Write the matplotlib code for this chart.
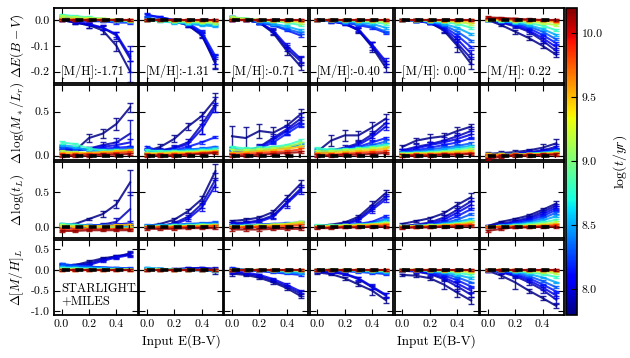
import numpy as np
import matplotlib
matplotlib.use("Agg")
import matplotlib.pyplot as plt
from matplotlib.ticker import FormatStrFormatter, FixedLocator

plt.rcParams['font.family'] = 'cmr10'
plt.rcParams['mathtext.fontset'] = 'cm'
plt.rcParams['axes.unicode_minus'] = False
plt.rcParams['axes.formatter.use_mathtext'] = True

#### data ####
ebv_in = [0.0, 0.1, 0.2, 0.3, 0.4, 0.5]
metallicity = ['-1.71', '-1.31', '-0.71', '-0.40', ' 0.00', ' 0.22']
ages = [7.82, 7.92, 8.02, 8.15, 8.3, 8.5, 8.8, 9.15, 9.5, 9.85, 10.15]

# Delta E(B-V), one line per age (young -> old)
ebv_m171 = [[0.0, -0.01, -0.02, -0.04, -0.10, -0.20],
            [0.0, -0.01, -0.02, -0.03, -0.06, -0.15],
            [0.0, -0.005, -0.015, -0.03, -0.055, -0.14],
            [0.005, 0.0, -0.005, -0.005, -0.01, -0.01],
            [0.01, 0.005, 0.0, -0.005, -0.005, -0.008],
            [0.015, 0.01, 0.005, 0.0, -0.005, -0.005],
            [0.02, 0.015, 0.01, 0.005, 0.0, -0.005],
            [0.015, 0.01, 0.008, 0.005, 0.0, -0.003],
            [0.005, 0.004, 0.003, 0.002, 0.0, 0.0],
            [0.0, 0.0, 0.0, 0.0, 0.0, 0.0],
            [0.0, 0.0, 0.0, 0.0, 0.0, 0.0]]
ebv_m131 = [[0.0, 0.0, -0.005, -0.02, -0.055, -0.17],
            [0.0, 0.0, -0.005, -0.02, -0.06, -0.16],
            [0.02, 0.01, 0.0, -0.015, -0.05, -0.15],
            [0.02, 0.01, 0.0, -0.012, -0.045, -0.14],
            [0.01, 0.0, -0.005, -0.01, -0.015, -0.02],
            [0.0, -0.005, -0.01, -0.015, -0.02, -0.025],
            [0.0, -0.005, -0.008, -0.01, -0.012, -0.015],
            [0.0, 0.0, -0.005, -0.005, -0.008, -0.01],
            [0.0, 0.0, 0.0, -0.002, -0.003, -0.004],
            [0.0, 0.0, 0.0, 0.0, 0.0, 0.0],
            [0.0, 0.0, 0.0, 0.0, 0.0, 0.0]]
ebv_m071 = [[0.0, 0.0, -0.01, -0.05, -0.12, -0.18],
            [0.0, 0.0, -0.01, -0.045, -0.11, -0.16],
            [0.0, 0.0, -0.01, -0.04, -0.10, -0.15],
            [0.01, 0.0, -0.01, -0.02, -0.04, -0.06],
            [0.01, 0.0, -0.01, -0.02, -0.035, -0.05],
            [0.01, 0.005, -0.005, -0.015, -0.025, -0.04],
            [0.01, 0.005, 0.0, -0.005, -0.01, -0.02],
            [0.01, 0.005, 0.0, -0.005, -0.005, -0.01],
            [0.005, 0.0, 0.0, 0.0, -0.002, -0.004],
            [0.0, 0.0, 0.0, 0.0, 0.0, 0.0],
            [0.0, 0.0, 0.0, 0.0, 0.0, 0.0]]
ebv_m040 = [[0.0, 0.0, -0.01, -0.04, -0.105, -0.185],
            [0.0, -0.005, -0.015, -0.04, -0.10, -0.17],
            [0.0, -0.005, -0.015, -0.035, -0.095, -0.16],
            [0.0, -0.005, -0.01, -0.02, -0.03, -0.05],
            [0.0, -0.005, -0.01, -0.015, -0.025, -0.045],
            [0.0, -0.003, -0.006, -0.01, -0.015, -0.03],
            [0.0, 0.0, -0.003, -0.005, -0.008, -0.015],
            [0.0, 0.0, 0.0, -0.002, -0.004, -0.008],
            [0.0, 0.0, 0.0, 0.0, 0.0, 0.0],
            [0.0, 0.0, 0.0, 0.0, 0.0, 0.0],
            [0.0, 0.0, 0.0, 0.0, 0.0, 0.0]]
ebv_p000 = [[0.0, -0.002, -0.01, -0.04, -0.10, -0.17],
            [0.0, -0.003, -0.012, -0.035, -0.09, -0.15],
            [0.0, -0.003, -0.01, -0.03, -0.075, -0.13],
            [0.0, -0.003, -0.01, -0.025, -0.06, -0.105],
            [0.0, -0.002, -0.008, -0.02, -0.045, -0.08],
            [0.0, -0.002, -0.006, -0.015, -0.03, -0.055],
            [0.0, -0.001, -0.004, -0.008, -0.015, -0.03],
            [0.0, 0.0, -0.002, -0.004, -0.008, -0.015],
            [0.0, 0.0, 0.0, -0.002, -0.004, -0.006],
            [0.0, 0.0, 0.0, 0.0, 0.0, 0.0],
            [0.0, 0.0, 0.0, 0.0, 0.0, 0.0]]
ebv_p022 = [[0.0, -0.02, -0.045, -0.07, -0.10, -0.135],
            [0.0, -0.01, -0.025, -0.045, -0.08, -0.12],
            [0.0, -0.008, -0.02, -0.04, -0.07, -0.105],
            [0.0, -0.006, -0.016, -0.032, -0.058, -0.09],
            [0.0, -0.005, -0.013, -0.025, -0.045, -0.075],
            [0.0, -0.004, -0.01, -0.02, -0.035, -0.058],
            [0.0, -0.002, -0.006, -0.012, -0.022, -0.04],
            [0.0, -0.001, -0.003, -0.006, -0.012, -0.02],
            [0.005, 0.003, 0.0, -0.002, -0.004, -0.008],
            [0.008, 0.005, 0.002, 0.0, 0.0, -0.002],
            [0.01, 0.008, 0.005, 0.002, 0.0, 0.0]]

# Delta log(M*/Lr)
ml_m171 = [[0.08, 0.06, 0.2, 0.25, 0.36, 0.55],
           [0.1, 0.06, 0.08, 0.12, 0.15, 0.25],
           [0.06, 0.06, 0.08, 0.1, 0.12, 0.15],
           [0.08, 0.07, 0.07, 0.08, 0.09, 0.1],
           [0.1, 0.08, 0.06, 0.06, 0.07, 0.08],
           [0.12, 0.1, 0.06, 0.05, 0.05, 0.06],
           [0.15, 0.13, 0.08, 0.06, 0.06, 0.06],
           [0.05, 0.04, 0.03, 0.03, 0.04, 0.05],
           [0.03, 0.03, 0.03, 0.04, 0.05, 0.06],
           [0.01, 0.01, 0.02, 0.02, 0.03, 0.04],
           [0.0, 0.0, 0.0, 0.01, 0.01, 0.02]]
ml_m131 = [[0.05, 0.1, 0.19, 0.33, 0.45, 0.64],
           [0.05, 0.06, 0.09, 0.15, 0.35, 0.58],
           [0.05, 0.05, 0.08, 0.13, 0.3, 0.55],
           [0.1, 0.05, 0.06, 0.1, 0.15, 0.21],
           [0.05, 0.05, 0.06, 0.07, 0.08, 0.1],
           [0.05, 0.05, 0.05, 0.06, 0.07, 0.08],
           [0.06, 0.05, 0.05, 0.05, 0.06, 0.07],
           [0.03, 0.03, 0.04, 0.04, 0.05, 0.05],
           [0.02, 0.02, 0.03, 0.03, 0.04, 0.05],
           [0.01, 0.01, 0.01, 0.02, 0.03, 0.04],
           [0.0, 0.0, 0.0, 0.01, 0.02, 0.03]]
ml_m071 = [[0.22, 0.2, 0.28, 0.26, 0.34, 0.47],
           [0.05, 0.05, 0.1, 0.2, 0.3, 0.42],
           [0.04, 0.05, 0.09, 0.18, 0.28, 0.38],
           [0.04, 0.05, 0.08, 0.15, 0.25, 0.35],
           [0.05, 0.05, 0.06, 0.08, 0.1, 0.12],
           [0.08, 0.06, 0.07, 0.08, 0.1, 0.13],
           [0.1, 0.08, 0.09, 0.1, 0.12, 0.17],
           [0.06, 0.06, 0.07, 0.08, 0.1, 0.14],
           [0.03, 0.04, 0.05, 0.06, 0.08, 0.1],
           [0.01, 0.02, 0.03, 0.04, 0.05, 0.07],
           [0.0, 0.0, 0.01, 0.02, 0.03, 0.04]]
ml_m040 = [[0.045, 0.17, 0.23, 0.23, 0.32, 0.42],
           [0.02, 0.06, 0.09, 0.14, 0.24, 0.37],
           [0.02, 0.05, 0.08, 0.12, 0.21, 0.33],
           [0.03, 0.05, 0.07, 0.1, 0.15, 0.2],
           [0.06, 0.06, 0.07, 0.09, 0.12, 0.16],
           [0.07, 0.06, 0.07, 0.08, 0.1, 0.13],
           [0.08, 0.07, 0.07, 0.08, 0.1, 0.12],
           [0.05, 0.05, 0.06, 0.07, 0.08, 0.1],
           [0.03, 0.03, 0.04, 0.05, 0.06, 0.08],
           [0.01, 0.01, 0.02, 0.03, 0.04, 0.05],
           [0.0, 0.0, 0.01, 0.01, 0.02, 0.03]]
ml_p000 = [[0.1, 0.17, 0.2, 0.22, 0.28, 0.33],
           [0.06, 0.1, 0.13, 0.17, 0.22, 0.28],
           [0.05, 0.08, 0.12, 0.15, 0.19, 0.24],
           [0.04, 0.06, 0.09, 0.12, 0.15, 0.2],
           [0.04, 0.05, 0.07, 0.09, 0.11, 0.14],
           [0.03, 0.04, 0.05, 0.07, 0.09, 0.11],
           [0.03, 0.03, 0.04, 0.05, 0.07, 0.09],
           [0.02, 0.03, 0.03, 0.04, 0.05, 0.07],
           [0.01, 0.02, 0.02, 0.03, 0.04, 0.05],
           [0.0, 0.01, 0.01, 0.02, 0.02, 0.03],
           [0.0, 0.0, 0.0, 0.01, 0.01, 0.02]]
ml_p022 = [[0.02, 0.03, 0.04, 0.06, 0.09, 0.14],
           [0.0, 0.01, 0.02, 0.04, 0.06, 0.1],
           [0.0, 0.01, 0.02, 0.03, 0.05, 0.08],
           [0.0, 0.01, 0.02, 0.03, 0.04, 0.07],
           [0.0, 0.01, 0.01, 0.02, 0.03, 0.06],
           [0.0, 0.01, 0.01, 0.02, 0.03, 0.05],
           [0.0, 0.0, 0.01, 0.02, 0.03, 0.04],
           [0.01, 0.01, 0.01, 0.02, 0.02, 0.03],
           [0.01, 0.01, 0.01, 0.01, 0.02, 0.03],
           [0.0, 0.0, 0.01, 0.01, 0.01, 0.02],
           [-0.04, -0.01, 0.0, 0.0, 0.01, 0.01]]

# Delta log(t_L)
tl_m171 = [[0.02, 0.05, 0.12, 0.19, 0.33, 0.64],
           [0.0, 0.0, 0.02, 0.04, 0.08, 0.26],
           [0.0, 0.0, 0.01, 0.02, 0.04, 0.06],
           [0.04, 0.03, 0.03, 0.03, 0.04, 0.05],
           [0.05, 0.04, 0.03, 0.03, 0.03, 0.03],
           [0.03, 0.02, 0.02, 0.01, 0.01, 0.01],
           [0.05, 0.04, 0.02, 0.01, 0.0, -0.01],
           [0.03, 0.02, 0.01, 0.0, -0.01, -0.02],
           [0.01, 0.01, 0.02, 0.02, 0.03, 0.04],
           [-0.03, -0.03, -0.02, -0.02, -0.02, -0.02],
           [-0.05, -0.05, -0.04, -0.04, -0.04, -0.04]]
tl_m131 = [[0.02, 0.05, 0.11, 0.23, 0.4, 0.8],
           [0.0, 0.02, 0.06, 0.15, 0.33, 0.68],
           [0.0, 0.01, 0.04, 0.12, 0.28, 0.6],
           [0.02, 0.02, 0.03, 0.04, 0.05, 0.06],
           [0.03, 0.03, 0.04, 0.05, 0.06, 0.07],
           [0.02, 0.03, 0.03, 0.04, 0.05, 0.05],
           [0.02, 0.02, 0.03, 0.03, 0.04, 0.04],
           [0.01, 0.01, 0.02, 0.02, 0.03, 0.03],
           [0.01, 0.01, 0.01, 0.02, 0.02, 0.03],
           [0.0, 0.0, 0.0, 0.01, 0.01, 0.02],
           [-0.02, -0.02, -0.02, -0.01, -0.01, -0.01]]
tl_m071 = [[0.09, 0.11, 0.14, 0.22, 0.42, 0.62],
           [0.06, 0.07, 0.1, 0.17, 0.36, 0.55],
           [0.05, 0.06, 0.08, 0.15, 0.34, 0.52],
           [0.03, 0.03, 0.04, 0.05, 0.06, 0.07],
           [0.03, 0.03, 0.04, 0.04, 0.05, 0.06],
           [0.02, 0.03, 0.03, 0.04, 0.05, 0.06],
           [0.02, 0.02, 0.03, 0.04, 0.05, 0.07],
           [0.02, 0.02, 0.03, 0.04, 0.05, 0.08],
           [0.01, 0.01, 0.02, 0.03, 0.04, 0.06],
           [0.0, 0.0, 0.01, 0.01, 0.02, 0.03],
           [-0.03, -0.03, -0.03, -0.02, -0.02, -0.02]]
tl_m040 = [[0.02, 0.04, 0.07, 0.15, 0.32, 0.49],
           [0.0, 0.02, 0.05, 0.12, 0.28, 0.44],
           [0.0, 0.01, 0.04, 0.1, 0.25, 0.4],
           [0.02, 0.02, 0.03, 0.05, 0.08, 0.16],
           [0.02, 0.02, 0.03, 0.04, 0.06, 0.12],
           [0.02, 0.02, 0.03, 0.04, 0.05, 0.1],
           [0.03, 0.03, 0.03, 0.04, 0.05, 0.08],
           [0.02, 0.02, 0.03, 0.03, 0.04, 0.06],
           [0.01, 0.01, 0.02, 0.03, 0.04, 0.05],
           [0.0, 0.0, 0.01, 0.01, 0.02, 0.03],
           [-0.01, -0.01, 0.0, 0.0, 0.01, 0.01]]
tl_p000 = [[0.05, 0.09, 0.13, 0.2, 0.32, 0.43],
           [0.02, 0.04, 0.07, 0.14, 0.25, 0.37],
           [0.01, 0.03, 0.05, 0.11, 0.21, 0.32],
           [0.01, 0.02, 0.04, 0.08, 0.16, 0.26],
           [0.01, 0.02, 0.03, 0.06, 0.11, 0.19],
           [0.01, 0.02, 0.03, 0.05, 0.08, 0.12],
           [0.02, 0.02, 0.03, 0.04, 0.06, 0.09],
           [0.02, 0.02, 0.03, 0.03, 0.05, 0.07],
           [0.01, 0.01, 0.02, 0.03, 0.04, 0.06],
           [0.0, 0.01, 0.01, 0.02, 0.03, 0.04],
           [-0.01, 0.0, 0.0, 0.01, 0.01, 0.02]]
tl_p022 = [[0.02, 0.08, 0.12, 0.17, 0.25, 0.34],
           [0.02, 0.05, 0.09, 0.14, 0.22, 0.31],
           [0.01, 0.04, 0.07, 0.12, 0.19, 0.28],
           [0.01, 0.03, 0.06, 0.1, 0.16, 0.25],
           [0.01, 0.03, 0.05, 0.08, 0.13, 0.21],
           [0.01, 0.02, 0.04, 0.06, 0.1, 0.16],
           [0.01, 0.02, 0.03, 0.05, 0.07, 0.11],
           [0.01, 0.02, 0.02, 0.03, 0.05, 0.07],
           [0.01, 0.01, 0.02, 0.02, 0.03, 0.05],
           [0.0, 0.01, 0.01, 0.01, 0.02, 0.03],
           [-0.05, -0.02, 0.0, 0.0, 0.01, 0.01]]

# Delta [M/H]_L
mh_m171 = [[0.1, 0.12, 0.2, 0.28, 0.33, 0.38],
           [0.12, 0.12, 0.15, 0.25, 0.32, 0.4],
           [0.1, 0.1, 0.12, 0.22, 0.3, 0.36],
           [0.12, 0.1, 0.08, 0.06, 0.05, 0.04],
           [0.15, 0.1, 0.08, 0.06, 0.04, 0.03],
           [0.08, 0.06, 0.05, 0.04, 0.03, 0.02],
           [0.05, 0.04, 0.03, 0.02, 0.02, 0.01],
           [0.02, 0.02, 0.01, 0.01, 0.01, 0.01],
           [0.0, 0.0, 0.0, 0.0, 0.0, 0.0],
           [0.0, 0.0, 0.0, 0.0, 0.0, 0.0],
           [0.0, 0.0, 0.0, 0.0, 0.0, 0.0]]
mh_m131 = [[0.0, 0.0, 0.0, 0.03, 0.02, -0.05],
           [0.02, 0.02, 0.02, 0.04, 0.05, 0.03],
           [0.02, 0.02, 0.02, 0.03, 0.04, 0.02],
           [0.03, 0.02, 0.01, 0.01, 0.0, -0.01],
           [0.04, 0.02, 0.01, 0.0, -0.01, -0.02],
           [0.05, 0.03, 0.01, 0.0, -0.01, -0.02],
           [0.03, 0.02, 0.01, 0.0, 0.0, -0.01],
           [0.01, 0.01, 0.0, 0.0, 0.0, 0.0],
           [0.0, 0.0, 0.0, 0.0, 0.0, 0.0],
           [0.0, 0.0, 0.0, 0.0, 0.0, 0.0],
           [0.0, 0.0, 0.0, 0.0, 0.0, 0.0]]
mh_m071 = [[-0.09, -0.12, -0.19, -0.3, -0.44, -0.63],
           [-0.06, -0.09, -0.15, -0.26, -0.4, -0.57],
           [-0.04, -0.06, -0.12, -0.22, -0.36, -0.52],
           [0.05, 0.0, -0.03, -0.06, -0.09, -0.12],
           [0.02, 0.0, -0.02, -0.04, -0.06, -0.09],
           [0.01, 0.0, -0.01, -0.03, -0.05, -0.07],
           [0.01, 0.0, 0.0, -0.01, -0.02, -0.03],
           [0.0, 0.0, 0.0, 0.0, -0.01, -0.01],
           [0.0, 0.0, 0.0, 0.0, 0.0, 0.0],
           [0.0, 0.0, 0.0, 0.0, 0.0, 0.0],
           [0.0, 0.0, 0.0, 0.0, 0.0, 0.0]]
mh_m040 = [[-0.06, -0.1, -0.2, -0.35, -0.5, -0.73],
           [-0.04, -0.06, -0.1, -0.22, -0.42, -0.62],
           [-0.03, -0.05, -0.09, -0.2, -0.4, -0.6],
           [0.0, -0.01, -0.03, -0.05, -0.07, -0.1],
           [0.0, -0.01, -0.02, -0.04, -0.06, -0.08],
           [0.0, 0.0, -0.01, -0.03, -0.04, -0.06],
           [0.0, 0.0, 0.0, -0.01, -0.02, -0.03],
           [0.0, 0.0, 0.0, 0.0, -0.01, -0.01],
           [0.0, 0.0, 0.0, 0.0, 0.0, 0.0],
           [0.0, 0.0, 0.0, 0.0, 0.0, 0.0],
           [0.0, 0.0, 0.0, 0.0, 0.0, 0.0]]
mh_p000 = [[-0.12, -0.14, -0.2, -0.35, -0.55, -0.74],
           [-0.02, -0.04, -0.1, -0.22, -0.4, -0.6],
           [-0.01, -0.03, -0.08, -0.18, -0.33, -0.5],
           [0.0, -0.02, -0.06, -0.13, -0.25, -0.4],
           [0.0, -0.01, -0.04, -0.09, -0.18, -0.3],
           [0.0, -0.01, -0.03, -0.06, -0.12, -0.2],
           [0.0, 0.0, -0.02, -0.04, -0.07, -0.12],
           [0.0, 0.0, -0.01, -0.02, -0.03, -0.06],
           [0.0, 0.0, 0.0, 0.0, -0.01, -0.02],
           [0.0, 0.0, 0.0, 0.0, 0.0, 0.0],
           [0.0, 0.0, 0.0, 0.0, 0.0, 0.0]]
mh_p022 = [[-0.02, -0.14, -0.3, -0.5, -0.68, -0.87],
           [-0.01, -0.06, -0.15, -0.3, -0.48, -0.72],
           [-0.01, -0.04, -0.12, -0.25, -0.42, -0.62],
           [0.0, -0.03, -0.1, -0.2, -0.35, -0.52],
           [0.0, -0.02, -0.07, -0.15, -0.27, -0.42],
           [0.0, -0.01, -0.05, -0.1, -0.18, -0.3],
           [0.0, -0.01, -0.03, -0.06, -0.1, -0.17],
           [0.0, 0.0, -0.01, -0.03, -0.05, -0.08],
           [0.0, 0.0, 0.0, -0.01, -0.02, -0.03],
           [0.0, 0.0, 0.0, 0.0, 0.0, 0.0],
           [0.0, 0.0, 0.0, 0.0, 0.0, 0.0]]

# error bars of the three youngest ages in every panel
ebv_err = [[[0.005, 0.005, 0.01, 0.015, 0.02, 0.04], [0.005, 0.005, 0.01, 0.01, 0.015, 0.05], [0.005, 0.005, 0.005, 0.01, 0.01, 0.02]],
           [[0.005, 0.005, 0.005, 0.008, 0.01, 0.02], [0.005, 0.005, 0.005, 0.008, 0.01, 0.025], [0.008, 0.005, 0.005, 0.008, 0.01, 0.02]],
           [[0.005, 0.005, 0.005, 0.01, 0.015, 0.015], [0.005, 0.005, 0.005, 0.01, 0.012, 0.015], [0.005, 0.005, 0.005, 0.008, 0.01, 0.012]],
           [[0.005, 0.005, 0.005, 0.01, 0.02, 0.015], [0.005, 0.005, 0.005, 0.008, 0.015, 0.012], [0.005, 0.005, 0.005, 0.008, 0.01, 0.012]],
           [[0.003, 0.005, 0.005, 0.01, 0.025, 0.02], [0.003, 0.005, 0.005, 0.01, 0.015, 0.02], [0.003, 0.005, 0.005, 0.008, 0.012, 0.015]],
           [[0.005, 0.005, 0.008, 0.008, 0.01, 0.01], [0.005, 0.005, 0.006, 0.008, 0.01, 0.01], [0.005, 0.005, 0.006, 0.008, 0.01, 0.01]]]
ml_err = [[[0.02, 0.02, 0.04, 0.05, 0.07, 0.05], [0.02, 0.02, 0.02, 0.03, 0.05, 0.15], [0.02, 0.02, 0.02, 0.02, 0.03, 0.04]],
          [[0.02, 0.03, 0.04, 0.04, 0.05, 0.07], [0.03, 0.03, 0.03, 0.04, 0.1, 0.08], [0.02, 0.02, 0.03, 0.03, 0.06, 0.05]],
          [[0.12, 0.12, 0.08, 0.06, 0.06, 0.06], [0.03, 0.03, 0.03, 0.04, 0.05, 0.06], [0.02, 0.02, 0.03, 0.04, 0.05, 0.06]],
          [[0.02, 0.06, 0.06, 0.05, 0.06, 0.05], [0.02, 0.02, 0.03, 0.03, 0.04, 0.05], [0.02, 0.02, 0.02, 0.03, 0.03, 0.04]],
          [[0.02, 0.03, 0.05, 0.04, 0.05, 0.03], [0.02, 0.03, 0.03, 0.04, 0.04, 0.04], [0.02, 0.02, 0.03, 0.03, 0.04, 0.04]],
          [[0.02, 0.02, 0.02, 0.02, 0.04, 0.05], [0.01, 0.01, 0.01, 0.02, 0.02, 0.03], [0.01, 0.01, 0.01, 0.02, 0.02, 0.03]]]
tl_err = [[[0.01, 0.01, 0.02, 0.04, 0.06, 0.18], [0.01, 0.01, 0.01, 0.02, 0.05, 0.25], [0.01, 0.01, 0.01, 0.01, 0.02, 0.03]],
          [[0.01, 0.01, 0.02, 0.03, 0.05, 0.1], [0.01, 0.01, 0.02, 0.03, 0.05, 0.1], [0.01, 0.01, 0.02, 0.03, 0.05, 0.08]],
          [[0.02, 0.02, 0.02, 0.03, 0.04, 0.05], [0.02, 0.02, 0.02, 0.03, 0.05, 0.05], [0.02, 0.02, 0.02, 0.03, 0.06, 0.05]],
          [[0.01, 0.01, 0.02, 0.03, 0.06, 0.04], [0.01, 0.01, 0.02, 0.03, 0.04, 0.04], [0.01, 0.01, 0.02, 0.02, 0.04, 0.04]],
          [[0.01, 0.01, 0.02, 0.03, 0.04, 0.06], [0.01, 0.01, 0.02, 0.03, 0.05, 0.05], [0.01, 0.01, 0.02, 0.02, 0.04, 0.05]],
          [[0.01, 0.01, 0.02, 0.02, 0.03, 0.04], [0.01, 0.01, 0.02, 0.02, 0.03, 0.03], [0.01, 0.01, 0.02, 0.02, 0.03, 0.03]]]
mh_err = [[[0.05, 0.03, 0.05, 0.04, 0.04, 0.05], [0.05, 0.03, 0.03, 0.04, 0.04, 0.05], [0.03, 0.03, 0.03, 0.03, 0.03, 0.04]],
          [[0.02, 0.02, 0.02, 0.03, 0.03, 0.05], [0.02, 0.02, 0.02, 0.02, 0.03, 0.04], [0.02, 0.02, 0.02, 0.02, 0.02, 0.03]],
          [[0.05, 0.03, 0.03, 0.04, 0.05, 0.05], [0.03, 0.03, 0.03, 0.04, 0.04, 0.05], [0.03, 0.03, 0.03, 0.03, 0.04, 0.04]],
          [[0.03, 0.03, 0.04, 0.05, 0.1, 0.07], [0.03, 0.03, 0.03, 0.04, 0.05, 0.06], [0.03, 0.03, 0.03, 0.04, 0.05, 0.05]],
          [[0.03, 0.03, 0.04, 0.1, 0.1, 0.08], [0.03, 0.03, 0.04, 0.05, 0.1, 0.06], [0.03, 0.03, 0.04, 0.05, 0.06, 0.06]],
          [[0.03, 0.05, 0.15, 0.05, 0.05, 0.05], [0.03, 0.04, 0.05, 0.06, 0.07, 0.08], [0.03, 0.03, 0.04, 0.05, 0.06, 0.07]]]
small_err = [0.004, 0.015, 0.015, 0.02]   # older ages, per row

rows = [[ebv_m171, ebv_m131, ebv_m071, ebv_m040, ebv_p000, ebv_p022],
        [ml_m171, ml_m131, ml_m071, ml_m040, ml_p000, ml_p022],
        [tl_m171, tl_m131, tl_m071, tl_m040, tl_p000, tl_p022],
        [mh_m171, mh_m131, mh_m071, mh_m040, mh_p000, mh_p022]]
row_errs = [ebv_err, ml_err, tl_err, mh_err]

ylabels = [r'$\Delta E(B-V)$', r'$\Delta\,\log(M_*/L_r)$',
           r'$\Delta\,\log(t_L)$', r'$\Delta[M/H]_L$']
ylims = [(-0.245, 0.047), (-0.055, 0.80), (-0.147, 0.924), (-1.09, 0.73)]
yticks = [[-0.2, -0.1, 0.0], [0.0, 0.5], [0.0, 0.5], [-1.0, -0.5, 0.0, 0.5]]

#### plotting ####
fig, axes = plt.subplots(4, 6, figsize=(6.3, 3.58), dpi=100, sharex=True)
fig.subplots_adjust(left=0.0857, right=0.895, top=0.978, bottom=0.12,
                    wspace=0.018, hspace=0.026)

cmap = plt.get_cmap('jet')
norm = matplotlib.colors.Normalize(vmin=7.8, vmax=10.2)

for r in range(4):
    for c in range(6):
        ax = axes[r, c]
        ax.axhline(0, color='k', lw=0.8, zorder=1)
        lines = rows[r][c]
        # young first, so that the old (red) ones sit on top near zero
        for k in range(len(ages)):
            if k < 3:
                err = row_errs[r][c][k]
            else:
                err = [small_err[r]] * len(ebv_in)
            ax.errorbar(ebv_in, lines[k], yerr=err, color=cmap(norm(ages[k])),
                        lw=1.5, elinewidth=1.0, capsize=2, capthick=1.0,
                        alpha=0.85, zorder=2 + k * 0.1)
        ax.plot([0.0, 0.5], [0.0, 0.0], color='k', lw=2.6, ls='--',
                dashes=(2.2, 1.5), zorder=10)

        ax.set_xlim(-0.055, 0.555)
        ax.set_ylim(ylims[r])
        ax.xaxis.set_major_locator(FixedLocator([0.0, 0.2, 0.4]))
        ax.yaxis.set_major_locator(FixedLocator(yticks[r]))
        ax.xaxis.set_major_formatter(FormatStrFormatter('%.1f'))
        ax.yaxis.set_major_formatter(FormatStrFormatter('%.1f'))
        ax.tick_params(direction='in', top=True, right=True, length=4,
                       width=0.8, labelsize=8.5, pad=3)
        for s in ax.spines.values():
            s.set_linewidth(1.3)
        if c > 0:
            ax.tick_params(labelleft=False)
        else:
            ax.set_ylabel(ylabels[r], fontsize=9.5)
            ax.yaxis.set_label_coords(-0.34, 0.5)
        if r == 0:
            ax.text(0.08, 0.15, '[M/H]:' + metallicity[c], transform=ax.transAxes,
                    fontsize=9, va='center', ha='left')

axes[3, 0].text(0.09, 0.26, 'STARLIGHT\n+MILES', transform=axes[3, 0].transAxes,
                fontsize=9, va='center', ha='left', linespacing=1.0)
axes[3, 1].set_xlabel('Input E(B-V)', fontsize=9.5, labelpad=4)
axes[3, 4].set_xlabel('Input E(B-V)', fontsize=9.5, labelpad=4)

# colorbar
cax = fig.add_axes([0.898, 0.12, 0.0175, 0.858])
sm = matplotlib.cm.ScalarMappable(norm=norm, cmap=cmap)
cbar = fig.colorbar(sm, cax=cax)
cbar.set_ticks([8.0, 8.5, 9.0, 9.5, 10.0])
cbar.ax.yaxis.set_major_formatter(FormatStrFormatter('%.1f'))
cbar.ax.tick_params(direction='in', length=4, width=0.8, labelsize=8.5)
cbar.outline.set_linewidth(1.2)
cbar.set_label(r'$\log(t/yr)$', fontsize=10)
cax.yaxis.set_label_coords(4.1, 0.5)

plt.savefig('out.png', dpi=100)
